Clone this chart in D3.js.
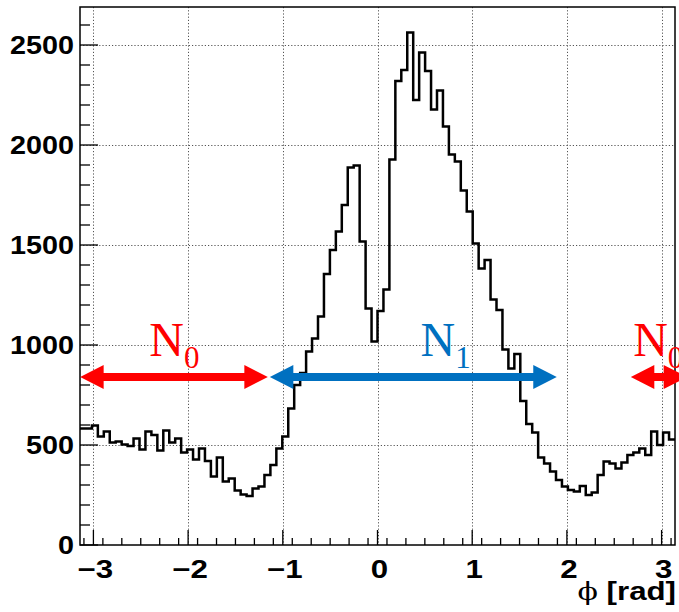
<!DOCTYPE html>
<html>
<head>
<meta charset="utf-8">
<script src="https://cdn.jsdelivr.net/npm/d3@7"></script>
<style>
  html, body { margin: 0; padding: 0; background: #fff; }
  svg { display: block; }
</style>
</head>
<body>
<svg id="chart" width="679" height="612"></svg>
<script>
// ---- data ----
const binCounts = [
  583, 583, 598, 542, 567, 512, 517, 503, 495, 533,
  478, 567, 550, 472, 572, 512, 533, 462, 478, 428,
  483, 420, 342, 438, 317, 333, 272, 253, 245, 283,
  292, 350, 400, 483, 542, 683, 800, 860, 967, 1033,
  1142, 1355, 1475, 1567, 1700, 1887, 1897, 1517, 1183, 1017,
  1170, 1278, 1928, 2320, 2375, 2563, 2225, 2462, 2370, 2178,
  2272, 2092, 1953, 1917, 1772, 1667, 1508, 1383, 1425, 1228,
  1175, 978, 883, 955, 720, 605, 562, 438, 408, 367,
  325, 292, 275, 267, 295, 250, 262, 350, 417, 408,
  383, 412, 450, 462, 483, 450, 567, 500, 563, 528
];
const xTickValues = [-3, -2, -1, 0, 1, 2, 3];
const yTickValues = [0, 500, 1000, 1500, 2000, 2500];
const xMinorTicks = d3.range(-31, 32, 2).map(d => d / 10);
const yMinorTicks = d3.range(0, 2700, 100);
const arrowLabels = ["N", "N", "N"];
const arrowSubs = ["0", "1", "0"];
const arrowStarts = [-3.14, -1.137, 2.675];
const arrowEnds = [-1.158, 1.893, 3.27];
const arrowColors = ["#ff0000", "#0070c0", "#ff0000"];
const arrowLevel = 840;
const labelX = [-2.41, 0.455, 2.7];

// ---- layout ----
const svg = d3.select("#chart");
const L = 80, R = 675, T = 7, B = 545;
const x = d3.scaleLinear().domain([-Math.PI, Math.PI]).range([L, R]);
const y = d3.scaleLinear().domain([0, 2690]).range([B, T]);
const nb = binCounts.length;
const binW = (2 * Math.PI) / nb;
const edges = d3.range(nb + 1).map(i => -Math.PI + i * binW);

// grid
const grid = svg.append("g").attr("stroke", "#555").attr("stroke-width", 1)
  .attr("stroke-dasharray", "1.2,2");
grid.selectAll("line.gx").data(xTickValues).join("line")
  .attr("x1", d => Math.round(x(d)) + 0.5).attr("x2", d => Math.round(x(d)) + 0.5)
  .attr("y1", T).attr("y2", B);
grid.selectAll("line.gy").data(yTickValues.filter(d => d > 0)).join("line")
  .attr("y1", d => Math.round(y(d)) + 0.5).attr("y2", d => Math.round(y(d)) + 0.5)
  .attr("x1", L).attr("x2", R);

// histogram
const pts = [];
binCounts.forEach((v, i) => {
  pts.push([x(edges[i]), y(v)]);
  pts.push([x(edges[i + 1]), y(v)]);
});
svg.append("path")
  .attr("d", d3.line()(pts))
  .attr("fill", "none").attr("stroke", "#000").attr("stroke-width", 2.5)
  .attr("stroke-linejoin", "miter");

// frame
svg.append("rect").attr("x", L).attr("y", T).attr("width", R - L).attr("height", B - T)
  .attr("fill", "none").attr("stroke", "#000").attr("stroke-width", 1.5);

// y axis ticks
const yAx = svg.append("g").attr("stroke", "#000").attr("stroke-width", 1.3);
yAx.selectAll("line.mn").data(yMinorTicks).join("line")
  .attr("x1", L).attr("x2", d => L + (d % 500 === 0 ? 18 : 10))
  .attr("y1", d => y(d)).attr("y2", d => y(d));
// x axis ticks
const xAx = svg.append("g").attr("stroke", "#000").attr("stroke-width", 1.3);
xAx.selectAll("line.mn").data(xMinorTicks).join("line")
  .attr("x1", d => x(d)).attr("x2", d => x(d))
  .attr("y1", B).attr("y2", B - 7);
xAx.selectAll("line.mj").data(xTickValues).join("line")
  .attr("x1", d => x(d)).attr("x2", d => x(d))
  .attr("y1", B).attr("y2", B - 15);

// tick labels (slightly wide bold sans, as in the reference)
const fmt = d => d < 0 ? "\u2212" + Math.abs(d) : String(d);
svg.append("g").selectAll("text").data(yTickValues).join("text")
  .attr("transform", d => `translate(74,${y(d)}) scale(1.15,1)`)
  .attr("dy", "0.36em")
  .attr("text-anchor", "end")
  .attr("font-family", "Liberation Sans, Arial, sans-serif")
  .attr("font-weight", "bold").attr("font-size", 25)
  .text(d => d);
svg.append("g").selectAll("text").data(xTickValues).join("text")
  .attr("transform", d => `translate(${x(d) + 2},578) scale(1.25,1)`)
  .attr("text-anchor", "middle")
  .attr("font-family", "Liberation Sans, Arial, sans-serif")
  .attr("font-weight", "bold").attr("font-size", 25)
  .text(fmt);

// axis title
const title = svg.append("text").attr("transform", "translate(676,600) scale(1.25,1)")
  .attr("text-anchor", "end")
  .attr("font-family", "Liberation Sans, Arial, sans-serif")
  .attr("font-weight", "bold").attr("font-size", 25);
title.append("tspan").attr("font-family", "DejaVu Serif, serif").attr("font-weight", "normal")
  .attr("font-size", 24).text("\u03d5");
title.append("tspan").text(" [rad]");

// arrows
const headLen = 23.5, headHalf = 12, shaftHalf = 4;
function arrowPath(x1, x2, yc) {
  return [
    [x1, yc], [x1 + headLen, yc - headHalf], [x1 + headLen, yc - shaftHalf],
    [x2 - headLen, yc - shaftHalf], [x2 - headLen, yc - headHalf], [x2, yc],
    [x2 - headLen, yc + headHalf], [x2 - headLen, yc + shaftHalf],
    [x1 + headLen, yc + shaftHalf], [x1 + headLen, yc + headHalf]
  ];
}
svg.append("g").selectAll("polygon").data(arrowStarts).join("polygon")
  .attr("points", (d, i) => arrowPath(x(d), x(arrowEnds[i]), y(arrowLevel)).map(p => p.join(",")).join(" "))
  .attr("fill", (d, i) => arrowColors[i]);

// labels
const lab = svg.append("g");
arrowLabels.forEach((t, i) => {
  const tx = lab.append("text").attr("x", x(labelX[i])).attr("y", 356)
    .attr("font-family", "Liberation Serif, Times New Roman, serif")
    .attr("font-size", 48).attr("fill", arrowColors[i]);
  tx.append("tspan").text(t);
  tx.append("tspan").attr("font-size", 31).attr("dy", 12).text(arrowSubs[i]);
});
</script>
</body>
</html>
